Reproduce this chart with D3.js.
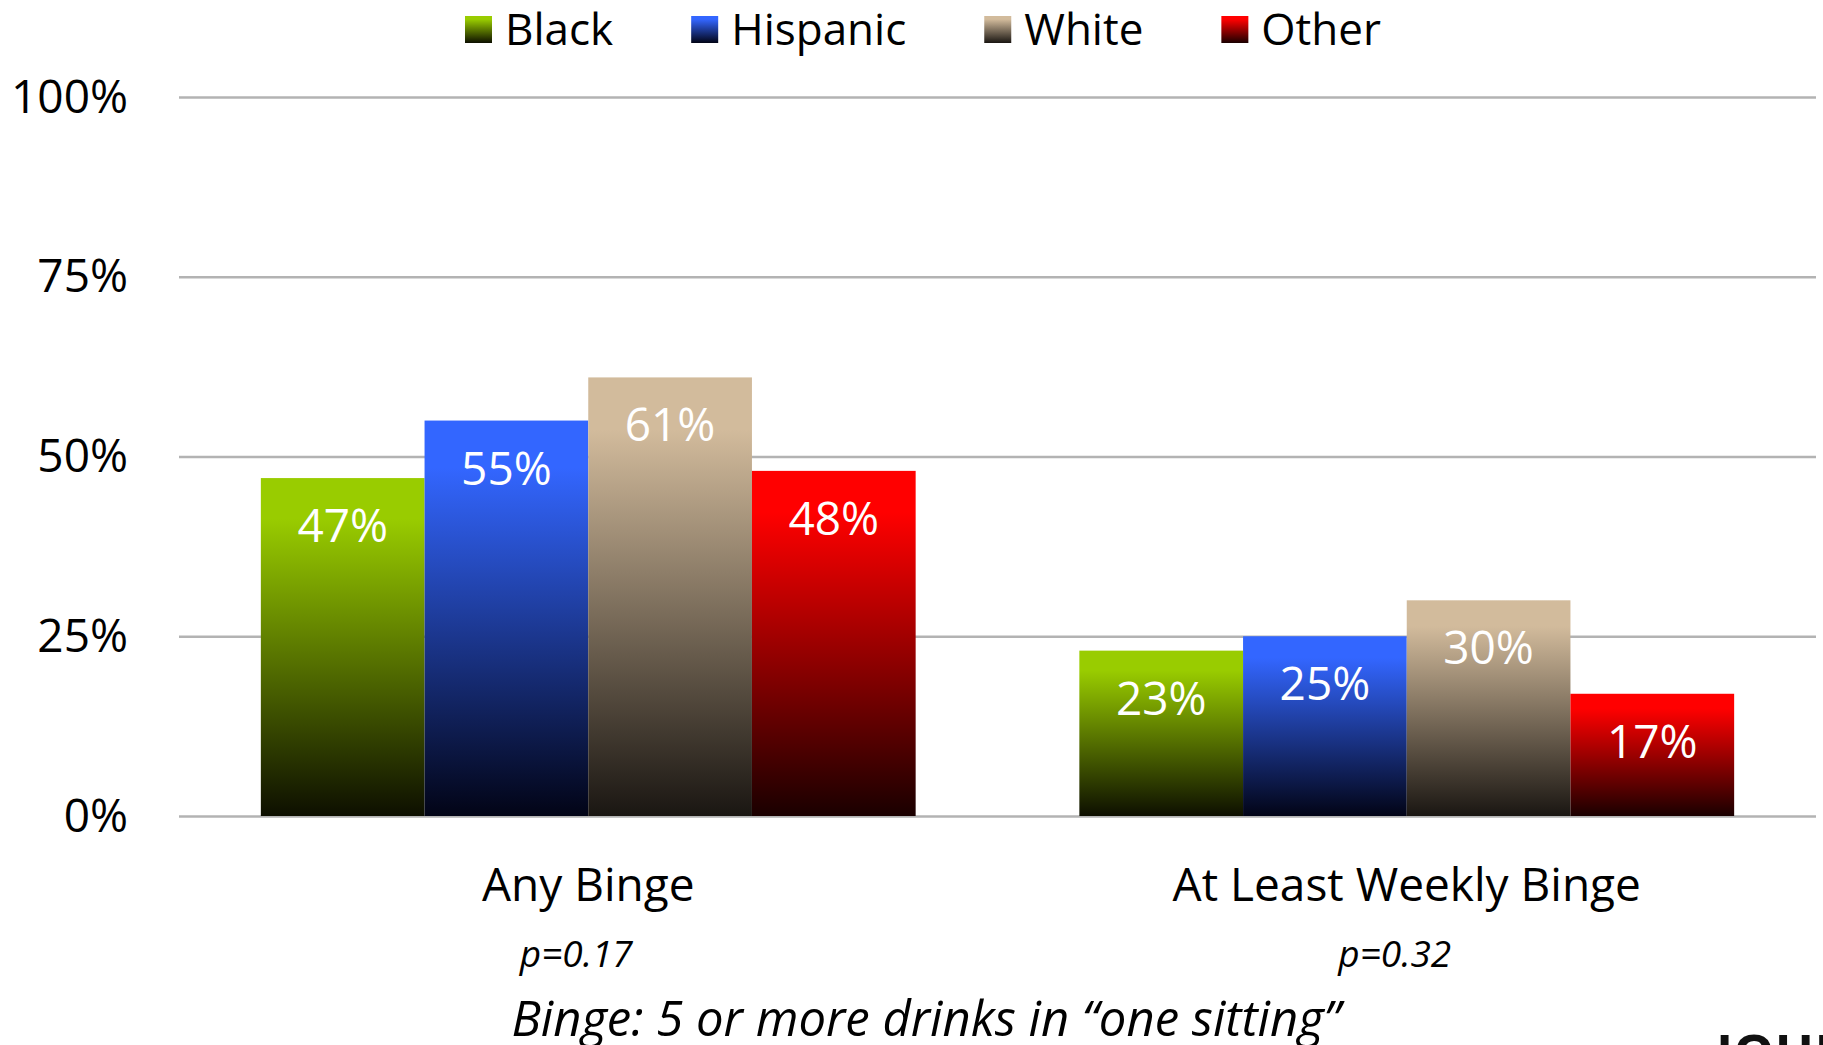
<!DOCTYPE html>
<html><head><meta charset="utf-8">
<script src="https://cdn.jsdelivr.net/npm/d3@7"></script>
<style>
html,body{margin:0;padding:0;background:#fff;overflow:hidden}
text{font-family:"Open Sans","Noto Sans",sans-serif}
</style></head>
<body><svg id="c" width="1823" height="1045"></svg>
<script>
const categories = ["Any Binge", "At Least Weekly Binge"];
const pValues = ["p=0.17", "p=0.32"];
const series = ["Black", "Hispanic", "White", "Other"];
const blackValues = [47, 23];
const hispanicValues = [55, 25];
const whiteValues = [61, 30];
const otherValues = [48, 17];
const tickValues = [0, 25, 50, 75, 100];
const tickLabels = ["0%", "25%", "50%", "75%", "100%"];
const footnote = "Binge: 5 or more drinks in \u201Cone sitting\u201D";
const seriesColors = ["#99cc00", "#3366ff", "#d2bb9c", "#ff0000"];
const seriesDark = ["#0d0f00", "#020416", "#1a1612", "#1a0000"];

(function () {
const valuesBySeries = [blackValues, hispanicValues, whiteValues, otherValues];

const svg = d3.select("#c");
const mLeft = 179, mRight = 1816, mTop = 97, mBottom = 816;

const y = d3.scaleLinear().domain([0, 100]).range([mBottom, mTop]);
const x0 = d3.scaleBand().domain(categories).range([mLeft, mRight]).padding(0);
const x1 = d3.scaleBand().domain(series)
  .range([x0.bandwidth() * 0.1, x0.bandwidth() * 0.9]).padding(0);

// gradients
const defs = svg.append("defs");
series.forEach((s, i) => {
  const g = defs.append("linearGradient").attr("id", "g" + i)
    .attr("x1", 0).attr("y1", 0).attr("x2", 0).attr("y2", 1);
  g.append("stop").attr("offset", "0").attr("stop-color", seriesColors[i]);
  g.append("stop").attr("offset", "0.12").attr("stop-color", seriesColors[i]);
  g.append("stop").attr("offset", "1").attr("stop-color", seriesDark[i]);
});

// gridlines
const yAxis = d3.axisLeft(y).tickValues(tickValues)
  .tickSize(-(mRight - mLeft)).tickFormat((d, i) => tickLabels[i]);
const ga = svg.append("g").attr("transform", `translate(${mLeft},0)`).call(yAxis);
ga.select(".domain").remove();
ga.selectAll(".tick line").attr("stroke", "#b3b3b3").attr("stroke-width", 2.5);
ga.selectAll(".tick text").attr("x", -(mLeft - 128)).attr("dy", null).attr("y", 15)
  .attr("fill", "#000").attr("font-size", 46)
  .attr("font-family", '"Open Sans","Noto Sans",sans-serif').attr("text-anchor", "end");

// bars
const data = [];
categories.forEach((c, ci) => series.forEach((s, si) => {
  data.push({c, s, si, v: valuesBySeries[si][ci]});
}));
const bars = svg.append("g");
bars.selectAll("rect").data(data).join("rect")
  .attr("x", d => x0(d.c) + x1(d.s))
  .attr("y", d => y(d.v))
  .attr("width", x1.bandwidth())
  .attr("height", d => y(0) - y(d.v))
  .attr("fill", d => `url(#g${d.si})`);
bars.selectAll("text").data(data).join("text")
  .attr("x", d => x0(d.c) + x1(d.s) + x1.bandwidth() / 2)
  .attr("y", d => y(d.v) + 64)
  .attr("text-anchor", "middle").attr("fill", "#fff").attr("font-size", 46)
  .text(d => d.v + "%");

// category labels
svg.append("g").selectAll("text").data(categories).join("text")
  .attr("x", d => x0(d) + x0.bandwidth() / 2).attr("y", 901)
  .attr("text-anchor", "middle").attr("font-size", 46).attr("fill", "#000")
  .text(d => d);
svg.append("g").selectAll("text").data(pValues).join("text")
  .attr("x", (d, i) => x0(categories[i]) + x0.bandwidth() / 2 - 12).attr("y", 967)
  .attr("text-anchor", "middle").attr("font-size", 37).attr("font-style", "italic").attr("fill", "#000")
  .text(d => d);

// footnote
svg.append("text").attr("x", 926).attr("y", 1036).attr("text-anchor", "middle")
  .attr("font-size", 49).attr("font-style", "italic").attr("fill", "#000").text(footnote);

// cut-off logo text
svg.append("text").attr("x", 1716).attr("y", 1072).attr("font-size", 52)
  .attr("font-weight", "bold").attr("fill", "#111")
  .attr("font-family", '"Liberation Sans",Arial,sans-serif').text("JOHNS");

// legend
const leg = svg.append("g");
let lx = 465;
series.forEach((s, i) => {
  const g = leg.append("g");
  g.append("rect").attr("x", lx).attr("y", 16).attr("width", 27).attr("height", 27)
    .attr("fill", `url(#g${i})`);
  const t = g.append("text").attr("x", lx + 40).attr("y", 45).attr("font-size", 44)
    .attr("fill", "#000").text(s);
  lx += 40 + t.node().getComputedTextLength() + 78;
});
})();
</script></body></html>
